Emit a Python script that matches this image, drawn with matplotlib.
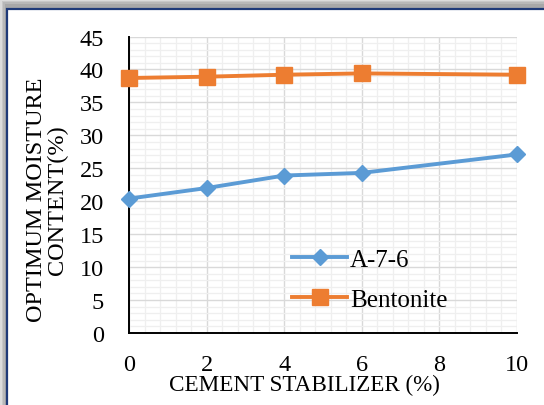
import matplotlib
matplotlib.use("Agg")
import matplotlib.pyplot as plt
from matplotlib.patches import Rectangle
from matplotlib.ticker import MultipleLocator

x = [0, 2, 4, 6, 10]
a76 = [20.4, 22.0, 23.9, 24.3, 27.1]
bentonite = [38.7, 38.9, 39.2, 39.4, 39.2]
series_names = ["A-7-6", "Bentonite"]
xlabel = "CEMENT STABILIZER (%)"
ylabel = "OPTIMUM MOISTURE\nCONTENT(%)"

plt.rcParams['font.family'] = ['Liberation Serif', 'DejaVu Serif']

W, H = 544, 406
fig = plt.figure(figsize=(W / 100, H / 100), dpi=100)
fig.patch.set_facecolor('white')

# shadow / background outside the chart frame
fig.patches.append(Rectangle((0, 0), 1, 1, transform=fig.transFigure,
                             facecolor='#d6d6d6', edgecolor='none', zorder=-10))
for i, c in enumerate(['#dcdcdc', '#c8c8c8', '#b8b8b8', '#a8a8a8']):
    off = 1.5 * i
    fig.patches.append(Rectangle(((off) / W, 0), 1, 1 - off / H, transform=fig.transFigure,
                                 facecolor=c, edgecolor='none', zorder=-9 + i))
fig.patches.append(Rectangle((7 / W, -0.05), 1.1, 1.05 - 10 / H, transform=fig.transFigure,
                             facecolor='white', edgecolor='#1f3a78', linewidth=1.6, zorder=-4))

ax = fig.add_axes([129 / W, 1 - 334 / H, (517 - 129) / W, (334 - 37.5) / H])
ax.set_facecolor('none')

ax.plot(x, a76, color='#5b9bd5', lw=2.8, marker='D', ms=8.5, label=series_names[0], zorder=3, clip_on=False)
ax.plot(x, bentonite, color='#ed7d31', lw=2.8, marker='s', ms=11.5, label=series_names[1], zorder=3, clip_on=False)

ax.set_xlim(0, 10)
ax.set_ylim(0, 45)
ax.xaxis.set_major_locator(MultipleLocator(2))
ax.xaxis.set_minor_locator(MultipleLocator(0.4))
ax.yaxis.set_major_locator(MultipleLocator(5))
ax.yaxis.set_minor_locator(MultipleLocator(1))
ax.grid(which='major', color='#d9d9d9', lw=1.0, zorder=0)
ax.grid(which='minor', color='#efefef', lw=0.9, zorder=0)
ax.set_axisbelow(True)
ax.tick_params(which='both', length=0, labelsize=17.5)
ax.tick_params(axis='x', pad=15)
ax.tick_params(axis='y', pad=18)
for s in ['top', 'right']:
    ax.spines[s].set_visible(False)
for s in ['left', 'bottom']:
    ax.spines[s].set_color('black')
    ax.spines[s].set_linewidth(1.4)

ax.set_xlabel(xlabel, fontsize=16.7)
ax.xaxis.set_label_coords((304 - 129) / (517 - 129), -(385 - 334) / (334 - 37.5), transform=ax.transAxes)
ax.xaxis.label.set_va('center')
fig.text(47 / W, 1 - 200 / H, ylabel, rotation=90, ha='center', va='center',
         fontsize=17.5, linespacing=0.95)

ax.legend(loc='upper left', bbox_to_anchor=(0.395, 0.32), frameon=False, fontsize=18,
          handlelength=2.2, handletextpad=0.1, labelspacing=0.72, borderaxespad=0)

fig.savefig('out.png', dpi=100)
